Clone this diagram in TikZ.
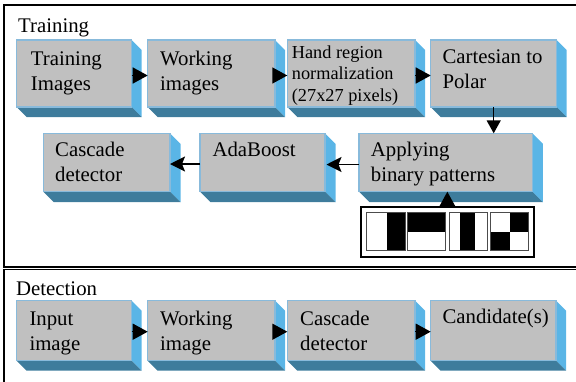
\documentclass[tikz,border=0pt]{standalone}
\usepackage{fontspec}
\setmainfont{Liberation Serif}
\newfontfamily\serifx{Liberation Serif}
\usetikzlibrary{arrows.meta}
\definecolor{frontgray}{HTML}{C0C0C0}
\definecolor{frontedge}{HTML}{88BADB}
\definecolor{sideblue}{HTML}{5AB5E6}
\definecolor{bottomblue}{HTML}{3E7C9C}
\tikzset{
  front/.style={draw=frontedge, fill=frontgray, line width=1.5pt, inner sep=0pt, outer sep=0pt},
  txt/.style={font=\serifx\fontsize{20.8}{25}\selectfont, inner sep=0pt, anchor=north west, align=left},
  smalltxt/.style={font=\serifx\fontsize{18.3}{21.7}\selectfont, inner sep=0pt, anchor=north west, align=left},
  tri/.style={-{Triangle[length=15pt,width=16pt]}, line width=1.5pt},
  stl/.style={-{Stealth[length=15pt,width=15pt,inset=3pt]}, line width=1.5pt},
  frame/.style={draw=black, line width=1.6pt},
  pat/.style={draw=black!70, line width=1pt},
}
\newcommand{\mycube}[6]{%
  \fill[sideblue] (#4,#3) -- (#4+#6,#3+#6) -- (#4+#6,#5+#6) -- (#4,#5) -- cycle;
  \fill[bottomblue] (#2,#5) -- (#2+#6,#5+#6) -- (#4+#6,#5+#6) -- (#4,#5) -- cycle;
  \node[front, anchor=north west, minimum width={#4-#2}, minimum height={#5-#3}] (#1) at (#2,#3) {};
}
\begin{document}
\begin{tikzpicture}[x=1pt,y=-1pt]
\useasboundingbox (0,0) rectangle (576,381);
% frames
\draw[frame] (4,5) rectangle (620,267);
\draw[frame] (4,269.5) rectangle (620,420);
\node[txt] (tlabel) at (18,14.5) {\strut Training};
\node[txt] (dlabel) at (16,277.5) {\strut Detection};
% row 1
\mycube{B1}{16.7}{40}{131.7}{107}{10}
\mycube{B2}{147.7}{40}{275}{107}{10}
\mycube{B3}{287.3}{40}{415}{107}{10}
\mycube{B4}{430.7}{40}{556.7}{107}{10}
\node[txt] (t1) at (30.7,47.5) {\strut Training\\\strut Images};
\node[txt] (t2) at (160,47.5) {\strut Working\\\strut images};
\node[smalltxt] (t3) at (291.7,42.9) {\strut Hand region\\\strut normalization\\\strut (27x27 pixels)};
\node[txt] (t4) at (442.3,45.8) {\strut Cartesian to\\\strut Polar};
% row 2
\mycube{B7}{43.3}{133.3}{170}{191.7}{10.5}
\mycube{B6}{200}{133.3}{325}{191.7}{10.5}
\mycube{B5}{359}{133.3}{532.3}{191.7}{10.5}
\node[txt] (t7) at (55,139.2) {\strut Cascade\\\strut detector};
\node[txt] (t6) at (212.3,139.2) {\strut AdaBoost};
\node[txt] (t5) at (370.7,139.2) {\strut Applying\\\strut binary patterns};
% patterns
\node[draw=black, line width=2pt, fill=white, inner sep=0pt, outer sep=0pt, anchor=north west,
      minimum width=173.3, minimum height=49.4] (P) at (360.7,207.3) {};
\fill[black] (386.7,212.7) rectangle (405,250.7);
\fill[black] (407.7,212.7) rectangle (445.7,232.3);
\fill[black] (460,212.7) rectangle (475,250.7);
\fill[black] (510,212.7) rectangle (528.3,232.3);
\fill[black] (490.7,232.3) rectangle (510,250.7);
\draw[pat] (366.7,212.7) rectangle (405,250.7);
\draw[pat] (407.7,212.7) rectangle (445.7,250.7);
\draw[pat] (449.3,212.7) rectangle (487.3,250.7);
\draw[pat] (490.7,212.7) rectangle (528.3,250.7);
% row 3
\mycube{D1}{16.7}{300.7}{131.7}{360.7}{10}
\mycube{D2}{147.7}{300.7}{275}{360.7}{10}
\mycube{D3}{287.3}{300.7}{415}{360.7}{10}
\mycube{D4}{430.7}{300.7}{556}{360.7}{10}
\node[txt] (u1) at (29.3,307.5) {\strut Input\\\strut image};
\node[txt] (u2) at (160,307.5) {\strut Working\\\strut image};
\node[txt] (u3) at (300,307.5) {\strut Cascade\\\strut detector};
\node[txt] (u4) at (442.3,305.8) {\strut Candidate(s)};
% arrows
\draw[tri] ([yshift=-2pt]B1.east) -- ([yshift=-2pt]B2.west);
\draw[tri] ([yshift=-2pt]B2.east) -- ([yshift=-2pt]B3.west);
\draw[tri] ([yshift=-2pt]B3.east) -- ([yshift=-2pt]B4.west);
\draw[tri, -{Triangle[length=13pt,width=14pt]}] (B4.south) -- (B4.south |- B5.north);
\draw[stl] ([yshift=-2pt]B5.west) -- ([yshift=-2pt,xshift=1.5pt]B6.east);
\draw[stl] ([yshift=-1.5pt]B6.west) -- ([yshift=-1.5pt]B7.east);
\draw[tri] (P.north) -- (P.north |- B5.south);
\draw[tri] ([yshift=-1pt]D1.east) -- ([yshift=-1pt]D2.west);
\draw[tri] ([yshift=-1pt]D2.east) -- ([yshift=-1pt]D3.west);
\draw[tri] ([yshift=-1pt]D3.east) -- ([yshift=-1pt]D4.west);
\end{tikzpicture}
\end{document}
